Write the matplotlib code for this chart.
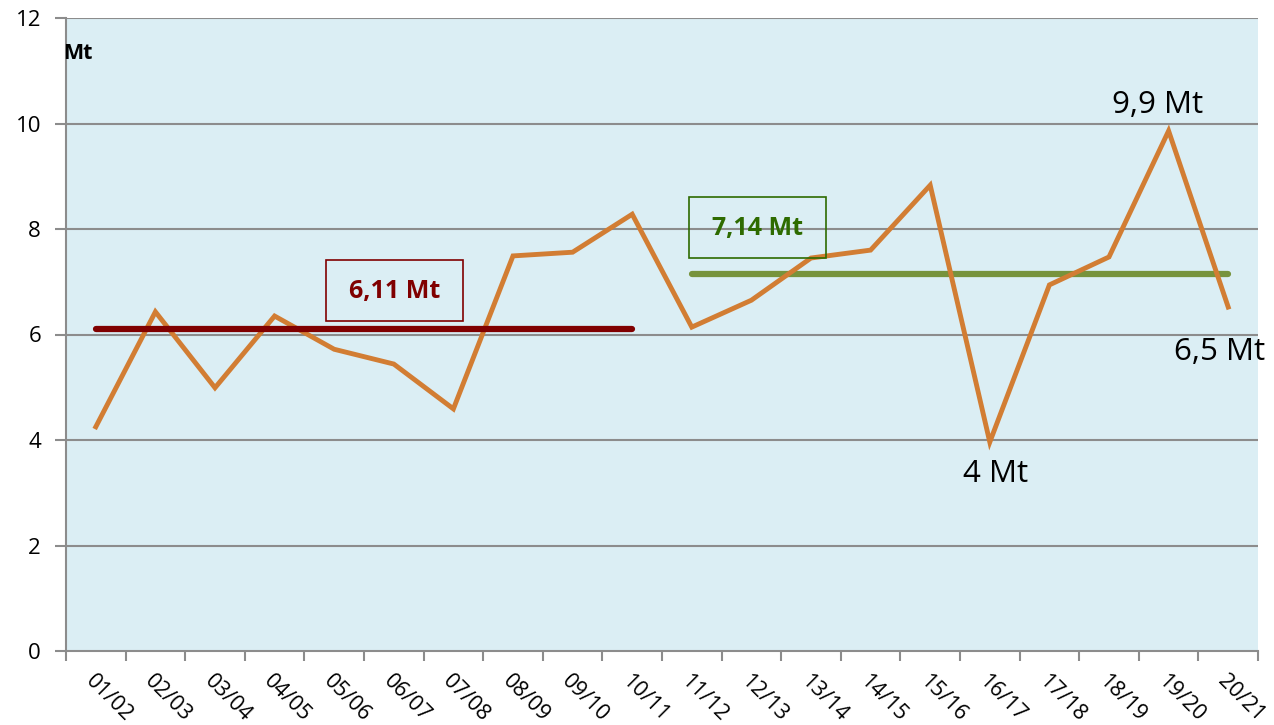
import matplotlib
matplotlib.use("Agg")
import matplotlib.pyplot as plt
from matplotlib.patches import Rectangle
import numpy as np

seasons = ["01/02", "02/03", "03/04", "04/05", "05/06", "06/07", "07/08", "08/09", "09/10", "10/11",
           "11/12", "12/13", "13/14", "14/15", "15/16", "16/17", "17/18", "18/19", "19/20", "20/21"]
production = [4.25, 6.43, 4.99, 6.35, 5.72, 5.44, 4.59, 7.49, 7.56, 8.28,
              6.14, 6.65, 7.45, 7.60, 8.83, 3.96, 6.94, 7.47, 9.86, 6.52]
avg1 = 6.11
avg2 = 7.14
yticks = [0, 2, 4, 6, 8, 10, 12]

plt.rcParams['font.family'] = ['Open Sans', 'DejaVu Sans']

fig = plt.figure(figsize=(12.74, 7.25), dpi=100)
ax = fig.add_axes([66/1274, 1-651/725, (1258-66)/1274, (651-18)/725])
ax.set_facecolor("#dbeef4")

x = np.arange(len(seasons)) + 0.5
ax.set_xlim(0, len(seasons))
ax.set_ylim(0, 12)

for yv in yticks[1:]:
    ax.axhline(yv, color="#8c8c8c", lw=1.5, zorder=1)

ax.plot(x, production, color="#d27d33", lw=3.5, zorder=3, solid_joinstyle="miter")
ax.plot([x[0], x[9]], [avg1, avg1], color="#800000", lw=4.5, solid_capstyle="round", zorder=4)
ax.plot([x[10], x[19]], [avg2, avg2], color="#77933c", lw=4.5, solid_capstyle="round", zorder=2)

# boxes
ax.add_patch(Rectangle((4.36, 6.26), 2.30, 1.15, fill=False, ec="#800000", lw=1.2, zorder=5))
ax.text(5.51, 6.81, "6,11 Mt", color="#800000", fontsize=18, fontweight="bold",
        ha="center", va="center", zorder=6)
ax.add_patch(Rectangle((10.45, 7.45), 2.30, 1.16, fill=False, ec="#2e6b00", lw=1.2, zorder=5))
ax.text(11.6, 8.0, "7,14 Mt", color="#2e6b00", fontsize=18, fontweight="bold",
        ha="center", va="center", zorder=6)

# annotations
ax.text(18.31, 10.36, "9,9 Mt", fontsize=22.5, ha="center", va="center", color="black")
ax.text(15.6, 3.36, "4 Mt", fontsize=22.5, ha="center", va="center", color="black")
ax.text(19.35, 5.66, "6,5 Mt", fontsize=22.5, ha="center", va="center", color="black", clip_on=False)
ax.text(-0.05, 11.33, "Mt", fontsize=15.5, fontweight="bold", ha="left", va="center", color="black")

ax.set_yticks(yticks)
ax.set_yticklabels([str(v) for v in yticks], fontsize=16)
ax.tick_params(axis="y", length=8, width=1.5, color="#8c8c8c", direction="out", pad=10)

ax.set_xticks(np.arange(0, len(seasons) + 1))
ax.set_xticklabels([])
ax.tick_params(axis="x", which="major", length=7, width=1.5, color="#8c8c8c", direction="out")
ax.set_xticks(x, minor=True)
ax.set_xticklabels(seasons, minor=True, rotation=-45, ha="left", va="top",
                   rotation_mode="anchor", fontsize=15.5)
ax.tick_params(axis="x", which="minor", length=0, pad=14)

ax.spines["right"].set_visible(False)
ax.spines["top"].set_visible(False)
ax.spines["left"].set_color("#8c8c8c")
ax.spines["left"].set_linewidth(1.5)
ax.spines["bottom"].set_color("#8c8c8c")
ax.spines["bottom"].set_linewidth(1.5)

fig.savefig("out.png", dpi=100)
